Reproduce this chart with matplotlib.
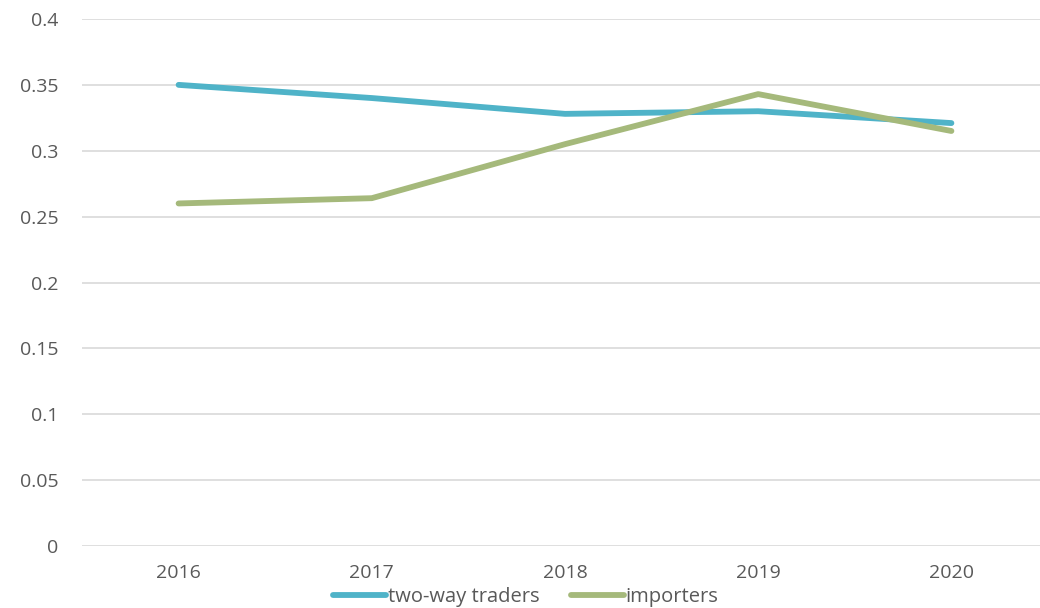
import matplotlib
matplotlib.use("Agg")
import matplotlib.pyplot as plt

plt.rcParams["font.family"] = ["Open Sans", "DejaVu Sans"]

years = ["2016", "2017", "2018", "2019", "2020"]
two_way = [0.350, 0.340, 0.328, 0.330, 0.321]
importers = [0.260, 0.264, 0.305, 0.343, 0.315]
yticks = [0, 0.05, 0.1, 0.15, 0.2, 0.25, 0.3, 0.35, 0.4]
ytick_labels = ["0", "0.05", "0.1", "0.15", "0.2", "0.25", "0.3", "0.35", "0.4"]

TXT = "#595959"
fig = plt.figure(figsize=(10.4, 6.08), dpi=100)
ax = fig.add_axes([82 / 1040, 1 - 546 / 608, 966 / 1040, 527 / 608])

x = range(len(years))
ax.plot(x, two_way, color="#4fb3c8", lw=4.2, solid_capstyle="round",
        solid_joinstyle="round", label="two-way traders", zorder=3)
ax.plot(x, importers, color="#a5b97b", lw=4.2, solid_capstyle="round",
        solid_joinstyle="round", label="importers", zorder=3)

ax.set_xlim(-0.5, 4.5)
ax.set_ylim(0, 0.4)
ax.set_yticks(yticks)
ax.set_yticklabels(ytick_labels)
ax.set_xticks(list(x))
ax.set_xticklabels(years)
ax.tick_params(axis="both", length=0, labelsize=14, colors=TXT)
ax.tick_params(axis="y", pad=17)
ax.tick_params(axis="x", pad=13)
ax.grid(axis="y", color="#d9d9d9", lw=1.2)
ax.set_axisbelow(True)
for s in ax.spines.values():
    s.set_visible(False)

fig.legend(loc="center", bbox_to_anchor=(526 / 1040, 1 - 597 / 608), ncol=2,
           frameon=False, fontsize=14.5, labelcolor=TXT, handlelength=2.6,
           handletextpad=0.1, columnspacing=1.6, borderaxespad=0, borderpad=0)

fig.savefig("out.png", dpi=100)
